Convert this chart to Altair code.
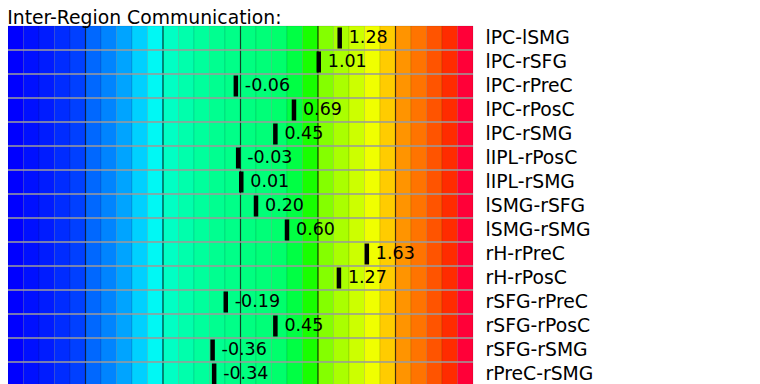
import altair as alt
import pandas as pd

title_text = "Inter-Region Communication:"
pairs = ["lPC-lSMG", "lPC-rSFG", "lPC-rPreC", "lPC-rPosC", "lPC-rSMG",
         "lIPL-rPosC", "lIPL-rSMG", "lSMG-rSFG", "lSMG-rSMG", "rH-rPreC",
         "rH-rPosC", "rSFG-rPreC", "rSFG-rPosC", "rSFG-rSMG", "rPreC-rSMG"]
values = [1.28, 1.01, -0.06, 0.69, 0.45, -0.03, 0.01, 0.20, 0.60, 1.63,
          1.27, -0.19, 0.45, -0.36, -0.34]
cell_colors = ["#0000ff", "#0010ff", "#001cff", "#002cff", "#0040ff",
               "#0068ff", "#0084ff", "#00a4ff", "#00d0ff", "#00f8f4",
               "#00ffc4", "#00ffac", "#00ff9c", "#00ff90", "#00ff88",
               "#00ff80", "#00ff78", "#00ff6c", "#00ff44", "#18ff00",
               "#84ff00", "#aaff00", "#ccff00", "#f0ff00", "#ffcc00",
               "#ff9400", "#ff7400", "#ff5400", "#ff2c00", "#ff0038"]
major_ticks = [-2, -1, 0, 1, 2]
x_min, x_max = -3.0, 3.0

n = len(cell_colors)
step = (x_max - x_min) / n
cells = pd.DataFrame([{"pair": p, "cell": j, "x0": x_min + j * step,
                       "x1": x_min + (j + 1) * step}
                      for p in pairs for j in range(n)])
vals = pd.DataFrame({"pair": pairs, "value": values,
                     "label": [f"{v:.2f}" for v in values]})
seps = pd.DataFrame({"pair": pairs[1:]})
majors = pd.DataFrame({"v": major_ticks})

FONT = "DejaVu Sans"
xs = alt.Scale(domain=[x_min, x_max], nice=False, zero=False)
ys = alt.Scale(paddingInner=0, paddingOuter=0)
yaxis = alt.Axis(orient="right", domain=False, ticks=False, tickSize=0,
                 labelPadding=12, labelFont=FONT, labelFontSize=18.8,
                 labelColor="#000000", labelLimit=300, grid=False)


def Y(**kw):
    return alt.Y("pair:N", scale=ys, sort=pairs, axis=yaxis, title=None, **kw)


cell_layer = alt.Chart(cells).mark_rect(
    stroke="black", strokeOpacity=0.1, strokeWidth=1
).encode(
    x=alt.X("x0:Q", scale=xs, axis=None),
    x2="x1:Q",
    y=Y(),
    color=alt.Color("cell:N", scale=alt.Scale(domain=list(range(n)), range=cell_colors),
                    legend=None),
)

major_layer = alt.Chart(majors).mark_rule(
    color="black", opacity=0.7, strokeWidth=1.2
).encode(x=alt.X("v:Q", scale=xs, axis=None))

sep_layer = alt.Chart(seps).mark_rule(
    color="#9e9e9e", strokeWidth=1.6
).encode(y=Y(bandPosition=0))

tick_layer = alt.Chart(vals).mark_tick(
    color="black", thickness=4.5, size=21, opacity=1
).encode(x=alt.X("value:Q", scale=xs, axis=None), y=Y())

text_layer = alt.Chart(vals).mark_text(
    align="left", baseline="middle", dx=9, font=FONT, fontSize=17.5, color="black"
).encode(x=alt.X("value:Q", scale=xs, axis=None), y=Y(), text="label:N")

chart = alt.layer(cell_layer, major_layer, sep_layer, tick_layer, text_layer).properties(
    width=465,
    height=360,
    title=alt.TitleParams(text=title_text, anchor="start", font=FONT, fontSize=18.8,
                          fontWeight="normal", color="black", offset=0.2, dy=2.5),
    autosize=alt.AutoSizeParams(type="none"),
    padding={"left": 0, "top": 18, "right": 200, "bottom": 0},
).configure_view(strokeWidth=0)

chart.save("out.html", embed_options={"renderer": "svg", "actions": False})
